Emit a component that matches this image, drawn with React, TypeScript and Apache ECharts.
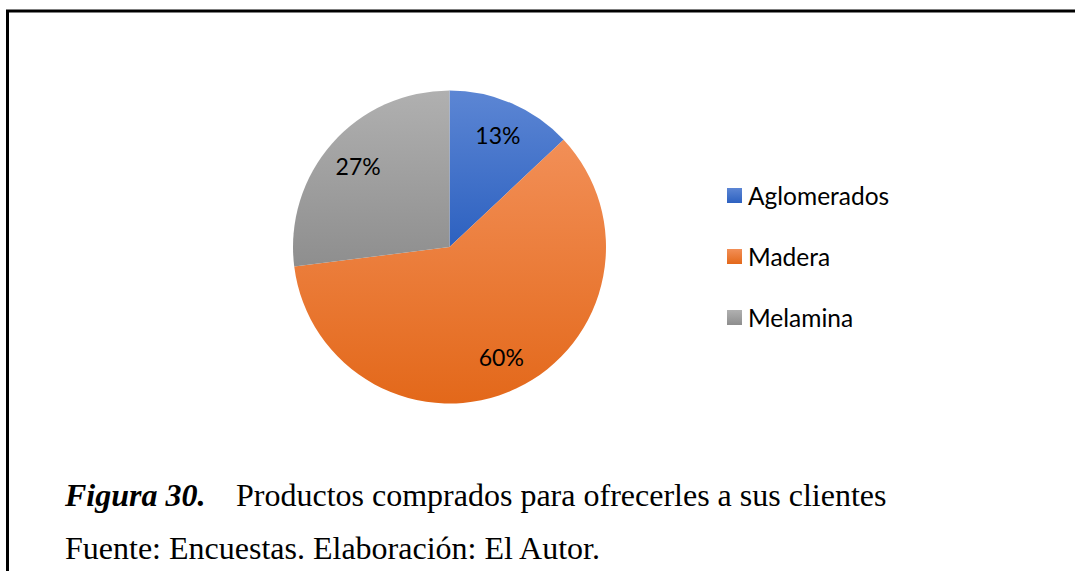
import React, { useEffect, useRef } from "react";
import * as echarts from "echarts";

const categories = ["Aglomerados", "Madera", "Melamina"];
const values = [13, 60, 27];
const gradients: [string, string][] = [
  ["#5c86d4", "#2d61c0"],
  ["#f28f57", "#e3681a"],
  ["#b0b0b0", "#8e8e8e"],
];
const captionLabel = "Figura 30.";
const captionText = "Productos comprados para ofrecerles a sus clientes";
const sourceText = "Fuente: Encuestas. Elaboración: El Autor.";

export default function App() {
  const ref = useRef<HTMLDivElement>(null);
  useEffect(() => {
    document.body.style.margin = "0";
    const chart = echarts.init(ref.current!, null, { renderer: "svg" });
    const grad = (i: number) =>
      new echarts.graphic.LinearGradient(0, 0, 0, 1, [
        { offset: 0, color: gradients[i][0] },
        { offset: 1, color: gradients[i][1] },
      ]);
    const mainData = categories.map((name, i) => ({
      name,
      value: values[i],
      itemStyle: { color: grad(i) },
    }));
    const labelData = categories.map((name, i) => ({ name, value: values[i] }));
    const serif = "'Liberation Serif', 'Times New Roman', serif";
    chart.setOption({
      animation: false,
      backgroundColor: "#ffffff",
      legend: {
        orient: "vertical",
        left: 722,
        top: 178,
        itemWidth: 15,
        itemHeight: 15,
        itemGap: 36,
        icon: "rect",
        data: categories,
        textStyle: {
          fontFamily: "Lato",
          fontSize: 24.5,
          color: "#000000",
          padding: [0, 0, 0, 1],
        },
      },
      series: [
        {
          type: "pie",
          center: [449.5, 247],
          radius: [0, 156.5],
          startAngle: 90,
          clockwise: true,
          label: { show: false },
          labelLine: { show: false },
          emphasis: { disabled: true },
          silent: true,
          data: mainData,
        },
        {
          type: "pie",
          center: [449.5, 247],
          radius: [81, 156.5],
          startAngle: 90,
          clockwise: true,
          silent: true,
          emphasis: { disabled: true },
          itemStyle: { color: "rgba(0,0,0,0)" },
          label: {
            show: true,
            position: "inside",
            formatter: "{c}%",
            fontFamily: "Lato",
            fontSize: 23,
            color: "#000000",
          },
          labelLine: { show: false },
          data: labelData,
        },
      ],
      graphic: [
        {
          type: "line",
          shape: { x1: 6, y1: 11, x2: 1075, y2: 11 },
          style: { stroke: "#000000", lineWidth: 3 },
        },
        {
          type: "line",
          shape: { x1: 7.5, y1: 10, x2: 7.5, y2: 571 },
          style: { stroke: "#000000", lineWidth: 3 },
        },
        {
          type: "text",
          x: 65,
          y: 479,
          style: {
            text: captionLabel,
            font: `italic bold 32px ${serif}`,
            fill: "#000000",
            verticalAlign: "top",
          },
        },
        {
          type: "text",
          x: 236,
          y: 479,
          style: {
            text: captionText,
            font: `32px ${serif}`,
            fill: "#000000",
            verticalAlign: "top",
          },
        },
        {
          type: "text",
          x: 65,
          y: 532,
          style: {
            text: sourceText,
            font: `32px ${serif}`,
            fill: "#000000",
            verticalAlign: "top",
          },
        },
      ],
    });
    return () => chart.dispose();
  }, []);
  return <div ref={ref} style={{ width: 1075, height: 571 }} />;
}
